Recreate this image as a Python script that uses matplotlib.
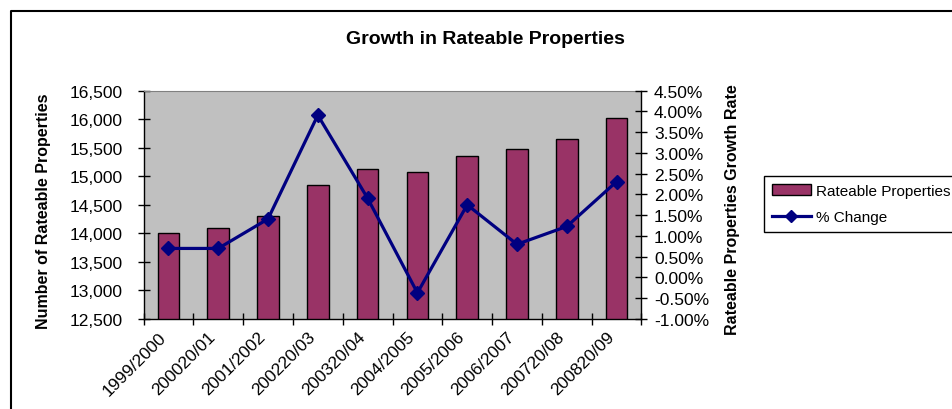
import matplotlib

matplotlib.use("Agg")
import matplotlib.pyplot as plt
from matplotlib.lines import Line2D
from matplotlib.patches import Patch
from matplotlib.ticker import FuncFormatter, MultipleLocator
from matplotlib.transforms import ScaledTranslation

# Rateable properties per financial year and the year-on-year growth rate.
YEARS = [
    "1999/2000", "200020/01", "2001/2002", "200220/03", "200320/04",
    "2004/2005", "2005/2006", "2006/2007", "200720/08", "200820/09",
]
PROPERTIES = [14000, 14090, 14300, 14850, 15135, 15080, 15360, 15485, 15660, 16015]
PCT_CHANGE = [0.70, 0.70, 1.41, 3.91, 1.91, -0.37, 1.75, 0.80, 1.23, 2.31]

W, H = 953, 410
BAR_COLOR = "#993366"
LINE_COLOR = "#000080"
PLOT_BG = "#C0C0C0"
FONT = "Liberation Sans"

plt.rcParams.update({"font.family": [FONT, "DejaVu Sans"], "font.size": 12.5})

fig = plt.figure(figsize=(W / 100, H / 100), dpi=100)


def px(x0, y0, x1, y1):
    """Pixel box (top-left origin) -> figure fraction rect."""
    return [x0 / W, 1 - y1 / H, (x1 - x0) / W, (y1 - y0) / H]


ax = fig.add_axes(px(143.5, 91.7, 641.5, 320))
ax.set_facecolor(PLOT_BG)
xs = range(len(YEARS))
ax.bar(xs, PROPERTIES, width=0.43, color=BAR_COLOR, edgecolor="black",
       linewidth=1.0, zorder=2)
ax.set_xlim(-0.5, len(YEARS) - 0.5)
ax.set_ylim(12500, 16500)
ax.yaxis.set_major_locator(MultipleLocator(500))
ax.yaxis.set_major_formatter(FuncFormatter(lambda v, _: f"{v:,.0f}"))

# category labels sit at the centres, tick marks on the boundaries
ax.set_xticks(list(xs))
ax.set_xticklabels(YEARS, rotation=45, ha="right", va="center",
                   rotation_mode="anchor")
ax.tick_params(axis="x", which="major", length=0, pad=11)
shift = ScaledTranslation(-5 / 100, 0, fig.dpi_scale_trans)
for lbl in ax.get_xticklabels():
    lbl.set_transform(lbl.get_transform() + shift)
ax.set_xticks([i - 0.5 for i in range(len(YEARS) + 1)], minor=True)
ax.tick_params(axis="x", which="minor", direction="inout", length=8, width=1)
ax.tick_params(axis="y", direction="inout", length=8, width=1, pad=11)

for s in ("left", "bottom"):
    ax.spines[s].set_linewidth(1.0)
ax.spines["top"].set_color("#808080")
ax.spines["right"].set_visible(False)

ax2 = ax.twinx()
ax2.plot(xs, PCT_CHANGE, color=LINE_COLOR, lw=2.3, marker="D", ms=7.5,
         markeredgecolor=LINE_COLOR, zorder=3)
ax2.set_ylim(-1.0, 4.5)
ax2.yaxis.set_major_locator(MultipleLocator(0.5))
ax2.yaxis.set_major_formatter(FuncFormatter(lambda v, _: f"{v:.2f}%"))
ax2.tick_params(axis="y", direction="inout", length=8, width=1, pad=5)
ax2.spines["right"].set_linewidth(1.0)
for s in ("top", "left", "bottom"):
    ax2.spines[s].set_visible(False)

fig.text(485 / W, 1 - 39 / H, "Growth in Rateable Properties", ha="center",
         va="center", fontsize=14, fontweight="bold")
fig.text(44 / W, 1 - 211 / H, "Number of Rateable Properties", rotation=90,
         ha="center", va="center", fontsize=11.5, fontweight="bold")
fig.text(733 / W, 1 - 210 / H, "Rateable Properties Growth Rate", rotation=90,
         ha="center", va="center", fontsize=11.5, fontweight="bold")

handles = [
    Patch(facecolor=BAR_COLOR, edgecolor="black", label="Rateable Properties"),
    Line2D([], [], color=LINE_COLOR, lw=2.3, marker="D", ms=6,
           label="% Change"),
]
leg = fig.legend(handles=handles, loc="upper left",
                 bbox_to_anchor=(764 / W, 1 - 177 / H), fontsize=11,
                 fancybox=False, framealpha=1, edgecolor="black",
                 borderpad=0.5, labelspacing=0.8, handlelength=2.6,
                 handletextpad=0.3, borderaxespad=0)
leg.get_frame().set_linewidth(1.0)

# chart-area border (runs off the right and bottom edges)
fig.add_artist(Line2D([11 / W, 11 / W, 1.2], [-0.2, 1 - 12 / H, 1 - 12 / H],
                      transform=fig.transFigure, color="black", lw=1.5))

fig.savefig("out.png", dpi=100)
